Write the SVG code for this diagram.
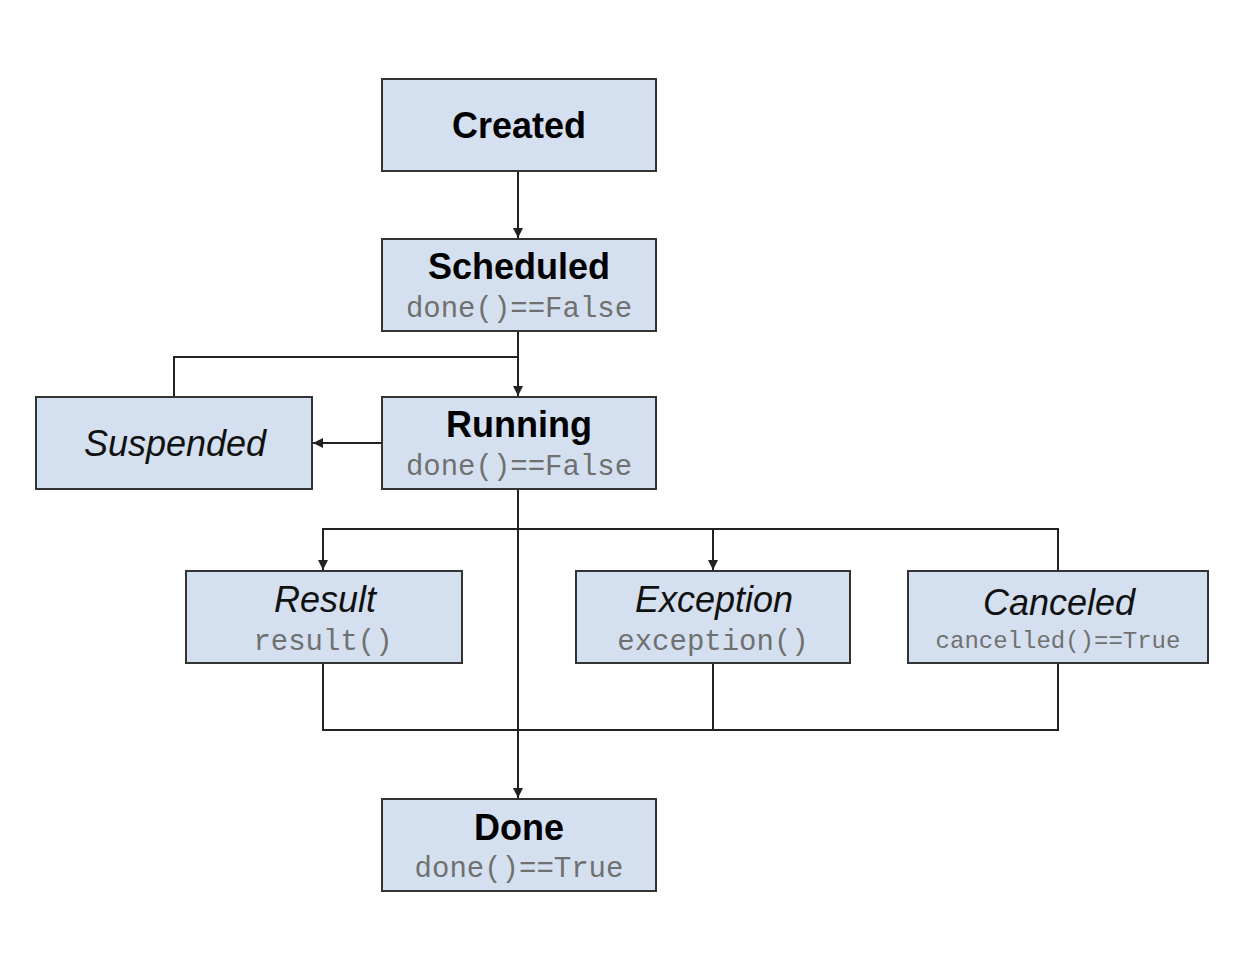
<svg xmlns="http://www.w3.org/2000/svg" width="1252" height="958" viewBox="0 0 1252 958">
<style>
.box{fill:#d4e0ef;stroke:#333;stroke-width:2}
.t{font-family:"Liberation Sans",Arial,sans-serif;font-size:36px;fill:#000;text-anchor:middle}
.b{font-weight:bold}
.i{font-style:italic;fill:#111}
.m{font-family:"Liberation Mono","Courier New",monospace;font-size:29px;fill:#707070;text-anchor:middle}
.c{fill:none;stroke:#222;stroke-width:2}
</style>
<defs>
<marker id="ah" viewBox="0 0 10 10" refX="10" refY="5" markerWidth="5" markerHeight="5" orient="auto" markerUnits="strokeWidth">
<path d="M0,0 L10,5 L0,10 z" fill="#222"/>
</marker>
</defs>
<rect width="1252" height="958" fill="#fff"/>
<g id="connectors">
<path class="c" d="M518,171 V238" marker-end="url(#ah)"/>
<path class="c" d="M518,331 V396" marker-end="url(#ah)"/>
<path class="c" d="M174,397 V357 H518"/>
<path class="c" d="M382,443 H313" marker-end="url(#ah)"/>
<path class="c" d="M518,489 V798" marker-end="url(#ah)"/>
<path class="c" d="M323,570 V529 H1058 V571"/>
<path class="c" d="M713,529 V570" marker-end="url(#ah)"/>
<path class="c" d="M323,529 V570" marker-end="url(#ah)"/>
<path class="c" d="M323,663 V730 H1058 V663"/>
<path class="c" d="M713,663 V730"/>
</g>
<g id="created">
<rect class="box" x="382" y="79" width="274" height="92"/>
<text class="t b" x="519" y="138">Created</text>
</g>
<g id="scheduled">
<rect class="box" x="382" y="239" width="274" height="92"/>
<text class="t b" x="519" y="279">Scheduled</text>
<text class="m" x="519" y="317">done()==False</text>
</g>
<g id="running">
<rect class="box" x="382" y="397" width="274" height="92"/>
<text class="t b" x="519" y="437">Running</text>
<text class="m" x="519" y="475">done()==False</text>
</g>
<g id="suspended">
<rect class="box" x="36" y="397" width="276" height="92"/>
<text class="t i" x="175" y="456">Suspended</text>
</g>
<g id="result">
<rect class="box" x="186" y="571" width="276" height="92"/>
<text class="t i" x="325" y="612">Result</text>
<text class="m" x="323" y="650">result()</text>
</g>
<g id="exception">
<rect class="box" x="576" y="571" width="274" height="92"/>
<text class="t i" x="714" y="612">Exception</text>
<text class="m" x="713" y="650">exception()</text>
</g>
<g id="canceled">
<rect class="box" x="908" y="571" width="300" height="92"/>
<text class="t i" x="1059" y="615">Canceled</text>
<text class="m" x="1058" y="648" style="font-size:24px">cancelled()==True</text>
</g>
<g id="done">
<rect class="box" x="382" y="799" width="274" height="92"/>
<text class="t b" x="519" y="840">Done</text>
<text class="m" x="519" y="877">done()==True</text>
</g>
</svg>
